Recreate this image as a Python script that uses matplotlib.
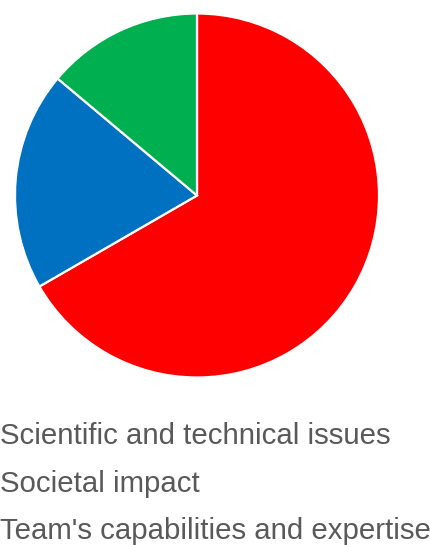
import matplotlib
matplotlib.use("Agg")
import matplotlib.pyplot as plt

labels = ["Scientific and technical issues", "Societal impact", "Team's capabilities and expertise"]
values = [48, 14, 10]
colors = ["#FF0000", "#0070C0", "#00B050"]

plt.rcParams['font.family'] = ['Liberation Sans', 'DejaVu Sans']

fig = plt.figure(figsize=(4.31, 5.45), dpi=100)
ax = fig.add_axes([15/431, 1 - 377.5/545, 364/431, 364/545])
wedges, _ = ax.pie(values, colors=colors, startangle=90, counterclock=False,
                   wedgeprops=dict(edgecolor='white', linewidth=1.6))
ax.set_xlim(-1.0, 1.0)
ax.set_ylim(-1.0, 1.0)
ax.set_aspect('equal')
ax.axis('off')

fig.legend(wedges, labels, loc='upper left',
           bbox_to_anchor=(-44/431, 1 - 422/545), bbox_transform=fig.transFigure,
           frameon=False, fontsize=21.2, labelcolor='#595959',
           handlelength=1.0, handletextpad=0.5, borderpad=0, borderaxespad=0,
           labelspacing=0.67)

fig.savefig("out.png", dpi=100)
